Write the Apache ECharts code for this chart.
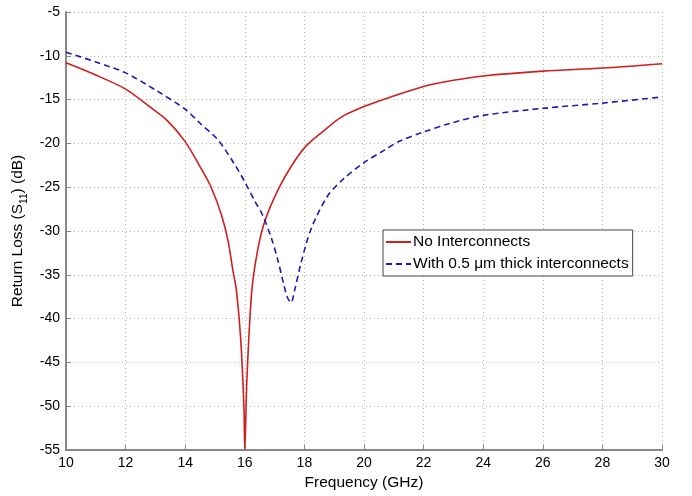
<!DOCTYPE html>
<html>
<head>
<meta charset="utf-8">
<script src="https://cdn.jsdelivr.net/npm/echarts@6/dist/echarts.min.js"></script>
<style>
  html, body { margin: 0; padding: 0; background: #fff; }
  #chart { width: 692px; height: 496px; }
</style>
</head>
<body>
<div id="chart"></div>
<script>
// frequency (GHz) / return loss (dB)
var redFreq = [10, 11, 12, 12.84, 13.4, 14, 14.53, 14.87, 15.21, 15.44, 15.6, 15.72, 15.86, 15.97, 16.0,
  16.07, 16.23, 16.43, 16.68, 17.13, 17.58, 18.03, 18.6, 19.24, 20, 20.9, 22, 23, 24, 26, 28, 30];
var redLoss = [-10.8, -12.2, -13.8, -15.9, -17.4, -19.8, -22.85, -25.0, -28.1, -31.15, -34.5, -36.8, -42.2, -50, -55,
  -47, -37, -32.2, -28.8, -25.2, -22.5, -20.4, -18.7, -17.0, -15.8, -14.7, -13.5, -12.8, -12.3, -11.75, -11.4, -10.9];

var blueFreq = [10, 11, 12, 13, 14, 14.53, 15.1, 15.66, 16, 16.34, 16.6, 16.89, 17.1, 17.3, 17.42, 17.55,
  17.67, 17.89, 18.22, 18.78, 19.33, 20, 20.67, 21.22, 22, 22.9, 24, 26, 28, 30];
var blueLoss = [-9.6, -10.7, -11.95, -13.9, -16.1, -17.8, -19.6, -22.4, -24.4, -26.6, -28.2, -30.8, -33.2, -36.0, -37.5, -38.2,
  -36.8, -33.6, -29.8, -26.0, -24.0, -22.2, -20.8, -19.7, -18.7, -17.7, -16.8, -16.0, -15.4, -14.7];

var seriesNames = ['No Interconnects', 'With 0.5 \u03bcm thick interconnects'];

function pairs(xs, ys) {
  return xs.map(function (x, i) { return [x, ys[i]]; });
}

var font = 'Liberation Sans, Arial, sans-serif';
var dom = document.getElementById('chart');
var myChart = echarts.init(dom, null, { renderer: 'canvas' });

var option = {
  backgroundColor: '#fff',
  animation: false,
  textStyle: { fontFamily: font },
  grid: { left: 66, right: 30, top: 12, bottom: 46 },
  legend: {
    orient: 'vertical',
    left: 383,
    top: 230,
    data: seriesNames,
    backgroundColor: '#fff',
    borderColor: '#444',
    borderWidth: 1,
    borderRadius: 0,
    padding: [4, 4, 4, 2],
    itemWidth: 25,
    itemHeight: 10,
    itemGap: 6,
    itemStyle: { opacity: 0 },
    textStyle: { fontSize: 15.5, color: '#000', fontFamily: font, padding: [0, 0, 0, -3] }
  },
  xAxis: {
    type: 'value',
    min: 10,
    max: 30,
    interval: 2,
    name: 'Frequency (GHz)',
    nameLocation: 'middle',
    nameGap: 25,
    nameTextStyle: { fontSize: 15.5, color: '#000', fontFamily: font },
    axisLine: { lineStyle: { color: '#888', width: 2 } },
    axisTick: { inside: true, length: 5, lineStyle: { color: '#888' } },
    axisLabel: { fontSize: 14, color: '#000', margin: 6, fontFamily: font },
    splitLine: { show: true, lineStyle: { color: '#b5b5b5', type: [1, 3], width: 1 } }
  },
  yAxis: {
    type: 'value',
    min: -55,
    max: -5,
    interval: 5,
    name: '{a|Return Loss (S}{s|11}{a|) (dB)}',
    nameLocation: 'middle',
    nameGap: 38,
    nameTextStyle: {
      fontSize: 15.5,
      color: '#000',
      fontFamily: font,
      rich: {
        a: { fontSize: 15.5, color: '#000', fontFamily: font, lineHeight: 19, verticalAlign: 'bottom' },
        s: { fontSize: 10, color: '#000', fontFamily: font, lineHeight: 19, verticalAlign: 'bottom', padding: [0, 0, -3, 0] }
      }
    },
    axisLine: { show: true, lineStyle: { color: '#888', width: 2 } },
    axisTick: { show: true, inside: true, length: 5, lineStyle: { color: '#888' } },
    axisLabel: { fontSize: 14, color: '#000', margin: 6, fontFamily: font },
    splitLine: { show: true, lineStyle: { color: '#b5b5b5', type: [1, 3], width: 1 } }
  },
  series: [
    {
      name: seriesNames[0],
      type: 'line',
      data: pairs(redFreq, redLoss),
      symbol: 'none',
      smooth: 0.3,
      lineStyle: { color: '#d01f1f', width: 1.6 },
      itemStyle: { color: '#d01f1f' }
    },
    {
      name: seriesNames[1],
      type: 'line',
      data: pairs(blueFreq, blueLoss),
      symbol: 'none',
      smooth: 0.3,
      lineStyle: { color: '#1c1cb0', width: 1.6, type: [6, 4] },
      itemStyle: { color: '#1c1cb0' }
    }
  ]
};

myChart.setOption(option, true);
</script>
</body>
</html>
